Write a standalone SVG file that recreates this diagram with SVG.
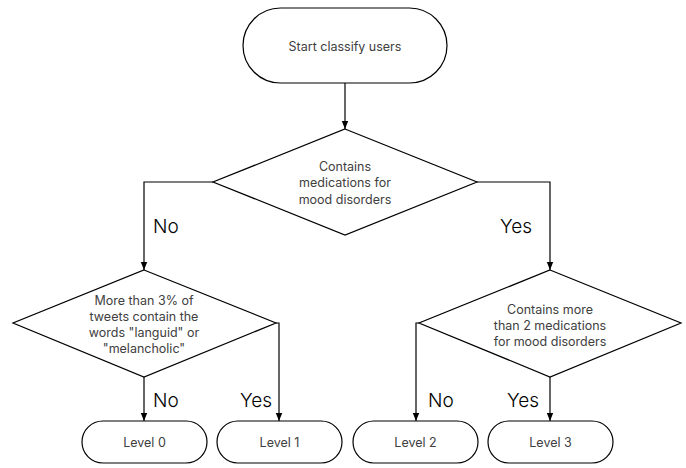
<svg xmlns="http://www.w3.org/2000/svg" width="686" height="468" viewBox="0 0 686 468">
<style>
.shape{fill:#fff;stroke:#000;stroke-width:1.2}
.t{font-family:Inter,"Noto Sans",sans-serif;font-size:12.5px;fill:#404040;text-anchor:middle}
.lbl{font-family:Inter,"Noto Sans",sans-serif;font-size:19px;font-weight:300;fill:#000}
.c{fill:none;stroke:#000;stroke-width:1.2;marker-end:url(#ah)}
</style>
<defs>
<marker id="ah" viewBox="0 0 8 8" refX="8" refY="4" markerWidth="8" markerHeight="8" markerUnits="userSpaceOnUse" orient="auto">
<path d="M0,0.8 L8,4 L0,7.2 Z" fill="#000"/>
</marker>
</defs>
<rect width="686" height="468" fill="#fff"/>
<g id="connectors">
<path class="c" d="M345,83 V129"/>
<path class="c" d="M213,182 H144 V270"/>
<path class="c" d="M477,182 H550 V270"/>
<path class="c" d="M144,377 V421"/>
<path class="c" d="M276,323 H279 V421"/>
<path class="c" d="M419,323 H416 V421"/>
<path class="c" d="M550,377 V421"/>
</g>
<g id="labels">
<text class="lbl" x="153" y="233">No</text>
<text class="lbl" x="500" y="233">Yes</text>
<text class="lbl" x="153" y="407">No</text>
<text class="lbl" x="240" y="407">Yes</text>
<text class="lbl" x="428" y="407">No</text>
<text class="lbl" x="507" y="407">Yes</text>
</g>
<g id="start">
<rect class="shape" x="243" y="8" width="204" height="75" rx="37.5"/>
<text class="t" x="345" y="50.5">Start classify users</text>
</g>
<g id="d1">
<polygon class="shape" points="345,129 477,182 345,235 213,182"/>
<text class="t" x="345" y="170.5">Contains</text>
<text class="t" x="345" y="187">medications for</text>
<text class="t" x="345" y="203.5">mood disorders</text>
</g>
<g id="d2">
<polygon class="shape" points="144,270 276,323 144,377 13,323"/>
<text class="t" x="144" y="305">More than 3% of</text>
<text class="t" x="144" y="321">tweets contain the</text>
<text class="t" x="144" y="337">words "languid" or</text>
<text class="t" x="144" y="353">"melancholic"</text>
</g>
<g id="d3">
<polygon class="shape" points="550,270 681,323 550,377 419,323"/>
<text class="t" x="550" y="314">Contains more</text>
<text class="t" x="550" y="330">than 2 medications</text>
<text class="t" x="550" y="346">for mood disorders</text>
</g>
<g id="level0">
<rect class="shape" x="82" y="421" width="125" height="42" rx="21"/>
<text class="t" x="144.5" y="446.5">Level 0</text>
</g>
<g id="level1">
<rect class="shape" x="217" y="421" width="125" height="42" rx="21"/>
<text class="t" x="279.5" y="446.5">Level 1</text>
</g>
<g id="level2">
<rect class="shape" x="353" y="421" width="125" height="42" rx="21"/>
<text class="t" x="415.5" y="446.5">Level 2</text>
</g>
<g id="level3">
<rect class="shape" x="488" y="421" width="125" height="42" rx="21"/>
<text class="t" x="550.5" y="446.5">Level 3</text>
</g>
</svg>
